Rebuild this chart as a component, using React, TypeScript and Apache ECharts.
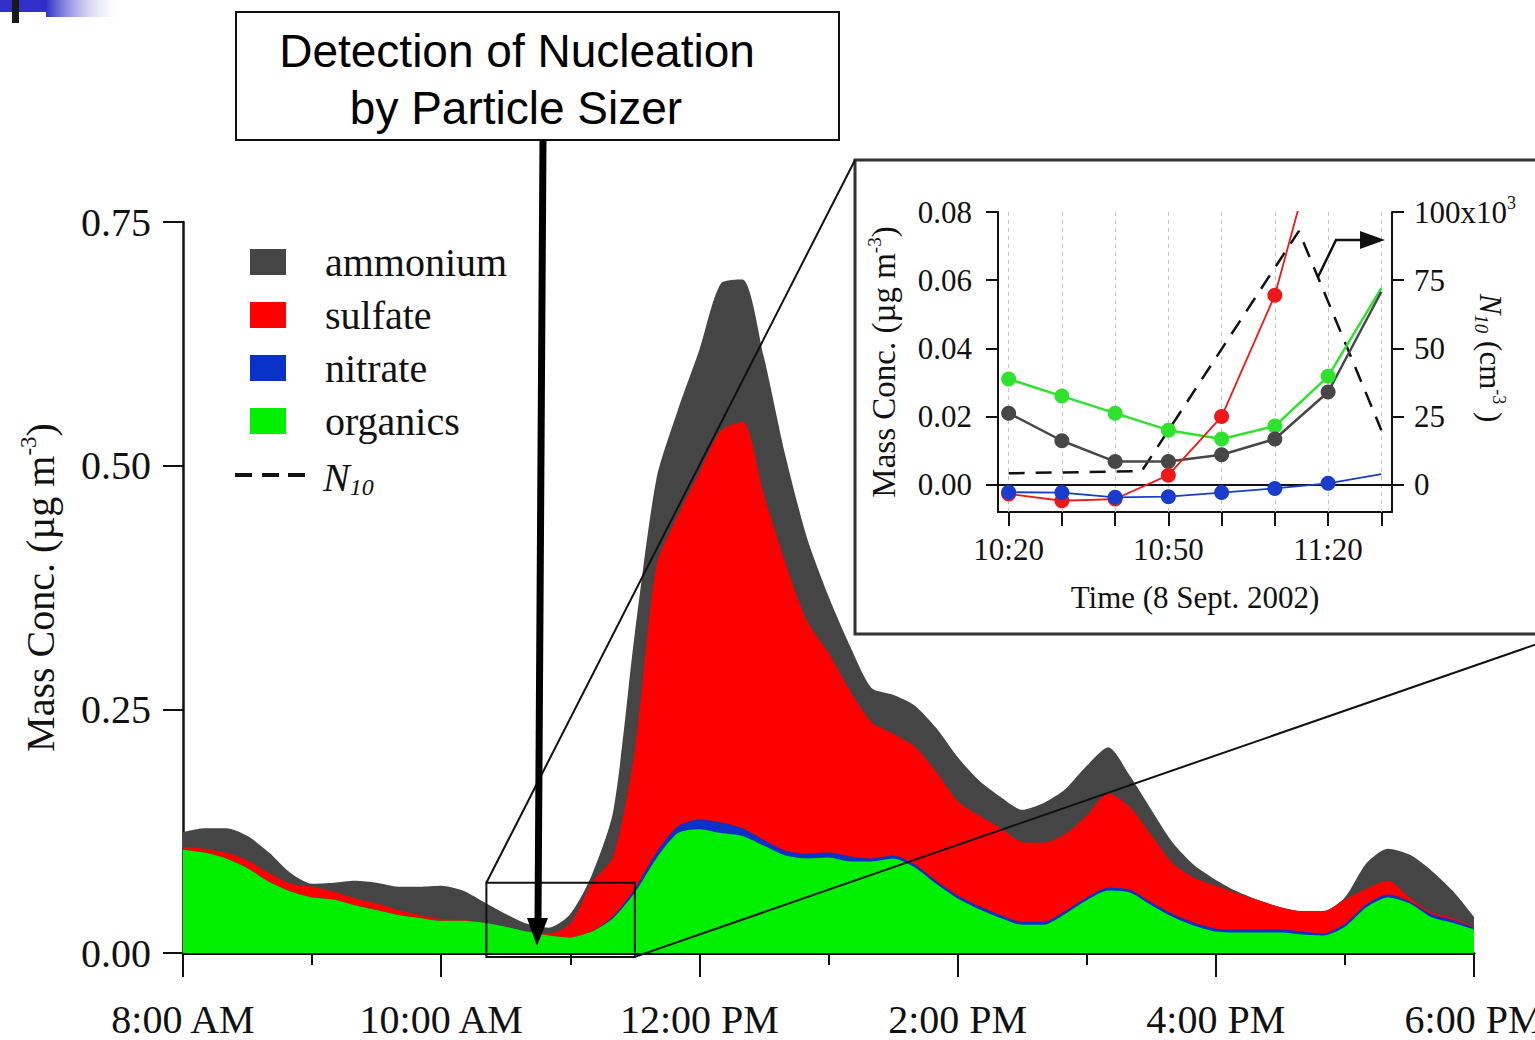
import React, { useEffect, useRef } from "react";
import * as echarts from "echarts";

// ---------- main chart data (minutes after 8:00 AM, µg m-3) ----------
const mainTimes = [
  0, 10, 20, 30, 40, 50, 60, 70, 80, 90, 100, 110, 120, 130, 140, 150, 160, 170, 180, 190,
  200, 210, 220, 230, 240, 250, 260, 270, 280, 290, 300, 310, 320, 330, 340, 350, 360, 370,
  380, 390, 400, 410, 420, 430, 440, 450, 460, 470, 480, 490, 500, 510, 520, 530, 540, 550,
  560, 570, 580, 590, 600,
];
const organics = [
  0.106, 0.103, 0.097, 0.087, 0.073, 0.063, 0.057, 0.055, 0.049, 0.044, 0.039, 0.036, 0.033,
  0.033, 0.031, 0.027, 0.022, 0.018, 0.016, 0.022, 0.036, 0.062, 0.097, 0.123, 0.127, 0.123,
  0.12, 0.11, 0.1, 0.097, 0.098, 0.094, 0.094, 0.097, 0.088, 0.071, 0.056, 0.045, 0.036, 0.029,
  0.029, 0.04, 0.054, 0.064, 0.062, 0.049, 0.037, 0.028, 0.022, 0.021, 0.021, 0.021, 0.019,
  0.018, 0.027, 0.047, 0.057, 0.051, 0.037, 0.031, 0.024,
];
const nitrate = [
  0, 0, 0, 0, 0, 0, 0, 0, 0, 0, 0, 0, 0, 0, 0, 0, 0, 0, 0, 0, 0.002, 0.004, 0.006, 0.007, 0.01,
  0.011, 0.008, 0.006, 0.005, 0.005, 0.005, 0.005, 0.003, 0.003, 0.003, 0.003, 0.003, 0.003,
  0.003, 0.003, 0.003, 0.003, 0.003, 0.003, 0.003, 0.003, 0.003, 0.003, 0.003, 0.003, 0.003,
  0.003, 0.003, 0.002, 0.003, 0.003, 0.003, 0.002, 0.003, 0.003, 0.002,
];
const sulfate = [
  0.003, 0.004, 0.006, 0.008, 0.009, 0.008, 0.011, 0.008, 0.007, 0.007, 0.005, 0.003, 0.002,
  0.001, 0, 0, 0, 0.002, 0.014, 0.05, 0.061, 0.142, 0.294, 0.319, 0.356, 0.402, 0.417, 0.354,
  0.295, 0.239, 0.205, 0.17, 0.14, 0.125, 0.121, 0.112, 0.097, 0.093, 0.089, 0.082, 0.081,
  0.079, 0.084, 0.097, 0.085, 0.069, 0.052, 0.046, 0.044, 0.037, 0.03, 0.023, 0.021, 0.023,
  0.025, 0.016, 0.014, 0.004, 0.002, 0.002, 0.001,
];
const ammonium = [
  0.015, 0.021, 0.025, 0.025, 0.021, 0.011, 0.003, 0.009, 0.018, 0.021, 0.024, 0.029, 0.034,
  0.03, 0.021, 0.013, 0.008, 0.006, 0.01, 0.008, 0.047, 0.12, 0.089, 0.108, 0.126, 0.151,
  0.146, 0.141, 0.11, 0.085, 0.058, 0.046, 0.035, 0.04, 0.042, 0.045, 0.045, 0.036, 0.032,
  0.033, 0.041, 0.046, 0.051, 0.047, 0.032, 0.026, 0.021, 0.013, 0.006, 0.002, 0, 0, 0, 0,
  0.002, 0.026, 0.033, 0.044, 0.043, 0.028, 0.01,
];
const mainTickLabels = ["8:00 AM", "10:00 AM", "12:00 PM", "2:00 PM", "4:00 PM", "6:00 PM"];
const mainYLabels = [0, 0.25, 0.5, 0.75];

// ---------- inset data (minutes after 10:00 AM) ----------
const insetTimes = [20, 30, 40, 50, 60, 70, 80, 90];
const insetOrganics = [0.031, 0.026, 0.021, 0.016, 0.0134, 0.0172, 0.0318, 0.0577];
const insetAmmonium = [0.021, 0.0129, 0.0068, 0.0068, 0.0088, 0.0134, 0.0272, 0.0566];
const insetSulfate = [-0.0027, -0.0047, -0.0042, 0.0028, 0.02, 0.0556, 0.113];
const insetNitrate = [-0.0022, -0.0023, -0.0037, -0.0035, -0.0023, -0.0011, 0.0004, 0.0031];
const n10Times = [20, 30, 40, 45, 74.5, 90];
const n10Values = [4200, 4500, 4800, 5000, 93000, 20000];
const insetTickValues = [20, 30, 40, 50, 60, 70, 80, 90];
const insetLabelValues = [20, 50, 80];
const insetTickLabels = ["10:20", "10:50", "11:20"];
const insetYLabels = [0, 0.02, 0.04, 0.06, 0.08];
const insetN10Labels = [0, 25000, 50000, 75000, 100000];

// zoomed window shown on the main chart (minutes after 8:00, µg m-3)
const zoomWindow = { from: 141, to: 210, low: -0.004, high: 0.072 };

const SERIF = '"Liberation Serif", "Times New Roman", serif';
const SANS = '"Liberation Sans", Arial, sans-serif';

const C_GRAY = "#454545";
const C_RED = "#ff0000";
const C_BLUE = "#0a32c8";
const C_GREEN = "#00f000";

export default function App() {
  const ref = useRef<HTMLDivElement>(null);

  useEffect(() => {
    document.body.style.margin = "0";
    document.documentElement.style.overflow = "hidden";
    const chart = echarts.init(ref.current!, null, { renderer: "svg" });
    const pair = (xs: number[], ys: number[]) => ys.map((v, i) => [xs[i], v]);
    const insetLine = (xs: number[], ys: number[], lastNoMarker: boolean) =>
      ys.map((v, i) =>
        lastNoMarker && i === ys.length - 1 ? { value: [xs[i], v], symbol: "none" } : { value: [xs[i], v] }
      );

    // cumulative stack (organics at the bottom, then nitrate, sulfate, ammonium)
    const addArr = (a: number[], b: number[]) => a.map((v, i) => Math.round((v + b[i]) * 1e5) / 1e5);
    const cumOrg = organics.slice();
    const cumNit = addArr(cumOrg, nitrate);
    const cumSul = addArr(cumNit, sulfate);
    const cumAmm = addArr(cumSul, ammonium);

    const areaSeries = (name: string, data: number[], color: string) => ({
      name,
      type: "line",
      xAxisIndex: 0,
      yAxisIndex: 0,
      data: pair(mainTimes, data),
      symbol: "none",
      smooth: 0.25,
      color,
      lineStyle: { width: 0, color },
      itemStyle: { color },
      areaStyle: { color, opacity: 1, origin: "start" },
      z: 2,
    });

    const insetSeries = (name: string, data: any[], color: string, width: number, size: number) => ({
      name,
      type: "line",
      xAxisIndex: 1,
      yAxisIndex: 1,
      data,
      symbol: "circle",
      symbolSize: size,
      color,
      lineStyle: { width, color },
      itemStyle: { color },
      clip: true,
      z: 4,
    });

    const option: any = {
      animation: false,
      backgroundColor: "#ffffff",
      textStyle: { fontFamily: SERIF },
      grid: [
        { left: 183, right: 61, top: 222, bottom: 87, outerBoundsMode: "none", containLabel: false },
        { left: 998, top: 212, width: 394, height: 300, outerBoundsMode: "none", containLabel: false },
      ],
      legend: {
        orient: "vertical",
        left: 245,
        top: 237,
        itemWidth: 36,
        itemHeight: 26,
        itemGap: 13,
        icon: "rect",
        selectedMode: false,
        data: ["ammonium", "sulfate", "nitrate", "organics"],
        textStyle: {
          fontFamily: SERIF,
          fontSize: 40,
          color: "#111",
          padding: [0, 0, 0, 34],
        },
      },
      xAxis: [
        {
          gridIndex: 0,
          type: "value",
          min: 0,
          max: 600,
          interval: 120,
          offset: 6,
          axisLine: { show: true, lineStyle: { color: "#111", width: 3 } },
          axisTick: { show: true, length: 24, lineStyle: { color: "#111", width: 2 } },
          minorTick: { show: true, splitNumber: 2, length: 12, lineStyle: { color: "#111", width: 2 } },
          splitLine: { show: false },
          axisLabel: {
            margin: 40,
            fontFamily: SERIF,
            fontSize: 40,
            color: "#111",
            formatter: (v: number) => mainTickLabels[Math.round(v / 120)] ?? "",
          },
        },
        {
          gridIndex: 1,
          type: "value",
          min: 18,
          max: 92,
          axisLine: { show: true, onZero: false, lineStyle: { color: "#111", width: 2 } },
          axisTick: {
            show: true,
            customValues: insetTickValues,
            length: 14,
            lineStyle: { color: "#111", width: 2 },
          },
          splitLine: { show: false },
          axisLabel: {
            customValues: insetLabelValues,
            margin: 22,
            fontFamily: SERIF,
            fontSize: 31,
            color: "#111",
            formatter: (v: number) => insetTickLabels[insetLabelValues.indexOf(v)] ?? "",
          },
          name: "Time (8 Sept. 2002)",
          nameLocation: "middle",
          nameGap: 70,
          nameTextStyle: { fontFamily: SERIF, fontSize: 31, color: "#111" },
        },
      ],
      yAxis: [
        {
          gridIndex: 0,
          type: "value",
          min: 0,
          max: 0.75,
          interval: 0.25,
          axisLine: { show: true, lineStyle: { color: "#111", width: 2.5 } },
          axisTick: { show: true, length: 20, lineStyle: { color: "#111", width: 2 } },
          splitLine: { show: false },
          axisLabel: {
            customValues: mainYLabels,
            margin: 32,
            fontFamily: SERIF,
            fontSize: 40,
            color: "#111",
            formatter: (v: number) => v.toFixed(2),
          },
          name: "{a|Mass Conc. (µg m}{s|-3}{a|)}",
          nameLocation: "middle",
          nameGap: 120,
          nameRotate: 90,
          nameTextStyle: {
            rich: {
              a: { fontFamily: SERIF, fontSize: 40, color: "#111", lineHeight: 46 },
              s: { fontFamily: SERIF, fontSize: 23, color: "#111", lineHeight: 23, verticalAlign: "top" },
            },
          },
        },
        {
          gridIndex: 1,
          type: "value",
          min: -0.008,
          max: 0.08,
          position: "left",
          axisLine: { show: true, onZero: false, lineStyle: { color: "#111", width: 2 } },
          axisTick: { show: true, customValues: insetYLabels, length: 12, lineStyle: { color: "#111", width: 2 } },
          splitLine: { show: false },
          axisLabel: {
            customValues: insetYLabels,
            margin: 26,
            fontFamily: SERIF,
            fontSize: 31,
            color: "#111",
            formatter: (v: number) => v.toFixed(2),
          },
          name: "{a|Mass Conc. (µg m}{s|-3}{a|)}",
          nameLocation: "middle",
          nameGap: 95,
          nameRotate: 90,
          nameTextStyle: {
            rich: {
              a: { fontFamily: SERIF, fontSize: 33, color: "#111", lineHeight: 38 },
              s: { fontFamily: SERIF, fontSize: 19, color: "#111", lineHeight: 19, verticalAlign: "top" },
            },
          },
        },
        {
          gridIndex: 1,
          type: "value",
          min: -10000,
          max: 100000,
          position: "right",
          axisLine: { show: true, onZero: false, lineStyle: { color: "#111", width: 2 } },
          axisTick: { show: true, customValues: insetN10Labels, length: 12, lineStyle: { color: "#111", width: 2 } },
          splitLine: { show: false },
          axisLabel: {
            customValues: insetN10Labels,
            margin: 22,
            color: "#111",
            formatter: (v: number) => (v === 100000 ? "{a|100x10}{s|3}" : "{a|" + v / 1000 + "}"),
            rich: {
              a: { fontFamily: SERIF, fontSize: 31, color: "#111", lineHeight: 36 },
              s: { fontFamily: SERIF, fontSize: 18, color: "#111", lineHeight: 18, verticalAlign: "top" },
            },
          },
        },
      ],
      series: [
        areaSeries("ammonium", cumAmm, C_GRAY),
        areaSeries("sulfate", cumSul, C_RED),
        areaSeries("nitrate", cumNit, C_BLUE),
        areaSeries("organics", cumOrg, C_GREEN),
        {
          ...insetSeries("organics (inset)", insetLine(insetTimes, insetOrganics, true), "#2ee22e", 2.5, 15),
          markLine: {
            silent: true,
            symbol: ["none", "none"],
            label: { show: false },
            lineStyle: { type: [4, 4], color: "#c4c4c4", width: 1 },
            data: insetTickValues.map((t) => ({ xAxis: t })),
            z: 1,
          },
        },
        insetSeries("ammonium (inset)", insetLine(insetTimes, insetAmmonium, true), "#474747", 2.5, 15),
        insetSeries("sulfate (inset)", insetLine(insetTimes, insetSulfate, false), "#ee1818", 1.8, 15),
        {
          ...insetSeries("nitrate (inset)", insetLine(insetTimes, insetNitrate, true), "#1a3ccc", 1.8, 15),
          markLine: {
            silent: true,
            symbol: ["none", "none"],
            label: { show: false },
            lineStyle: { type: "solid", color: "#111", width: 2 },
            data: [{ yAxis: 0 }],
            z: 3,
          },
        },
        {
          name: "N10",
          type: "line",
          xAxisIndex: 1,
          yAxisIndex: 2,
          data: pair(n10Times, n10Values),
          symbol: "none",
          color: "#111",
          lineStyle: { color: "#111", width: 2.5, type: [16, 11] },
          clip: true,
          z: 3,
        },
      ],
    };

    chart.setOption(option);

    const tl = chart.convertToPixel({ xAxisIndex: 0, yAxisIndex: 0 }, [zoomWindow.from, zoomWindow.high]) as number[];
    const br = chart.convertToPixel({ xAxisIndex: 0, yAxisIndex: 0 }, [zoomWindow.to, zoomWindow.low]) as number[];

    const insetBox = { x: 855, y: 160, w: 700, h: 474 };

    chart.setOption({
      graphic: [
        { type: "rect", shape: { x: 0, y: 0, width: 46, height: 12 }, style: { fill: "#3030c8" }, z: 50 },
        {
          type: "rect",
          shape: { x: 46, y: 0, width: 78, height: 17 },
          style: {
            fill: new echarts.graphic.LinearGradient(0, 0, 1, 0, [
              { offset: 0, color: "#3030c8" },
              { offset: 1, color: "rgba(255,255,255,0)" },
            ]),
          },
          z: 50,
        },
        { type: "rect", shape: { x: 12, y: 0, width: 7, height: 23 }, style: { fill: "#1a1a1a" }, z: 51 },
        {
          type: "rect",
          shape: { x: insetBox.x, y: insetBox.y, width: insetBox.w, height: insetBox.h },
          style: { fill: "#ffffff", stroke: "#333333", lineWidth: 3 },
          z: 0,
        },
        // right axis title of the inset (N10), rotated clockwise
        {
          type: "text",
          x: 1490,
          y: 358,
          rotation: -Math.PI / 2,
          style: {
            text: "{i|N}{b|10}{a| (cm}{s|-3}{a| )}",
            align: "center",
            verticalAlign: "middle",
            rich: {
              i: { font: `italic 31px ${SERIF}`, fill: "#111", lineHeight: 36 },
              b: { font: `italic 19px ${SERIF}`, fill: "#111", lineHeight: 19, verticalAlign: "bottom" },
              a: { font: `31px ${SERIF}`, fill: "#111", lineHeight: 36 },
              s: { font: `18px ${SERIF}`, fill: "#111", lineHeight: 18, verticalAlign: "top" },
            },
          },
          z: 60,
        },
        {
          type: "rect",
          shape: { x: tl[0], y: tl[1], width: br[0] - tl[0], height: br[1] - tl[1] },
          style: { fill: "none", stroke: "#111", lineWidth: 2 },
          z: 60,
        },
        {
          type: "line",
          shape: { x1: tl[0], y1: tl[1], x2: insetBox.x, y2: insetBox.y },
          style: { stroke: "#111", lineWidth: 2 },
          z: 60,
        },
        {
          type: "line",
          shape: { x1: br[0], y1: br[1], x2: 1540, y2: 643 },
          style: { stroke: "#111", lineWidth: 2 },
          z: 60,
        },
        {
          type: "rect",
          shape: { x: 236, y: 12, width: 603, height: 128 },
          style: { fill: "#ffffff", stroke: "#111", lineWidth: 2 },
          z: 70,
        },
        {
          type: "text",
          x: 517,
          y: 51,
          style: {
            text: "Detection of Nucleation",
            font: `46px ${SANS}`,
            fill: "#000",
            align: "center",
            verticalAlign: "middle",
          },
          z: 71,
        },
        {
          type: "text",
          x: 516,
          y: 108,
          style: {
            text: "by Particle Sizer",
            font: `46px ${SANS}`,
            fill: "#000",
            align: "center",
            verticalAlign: "middle",
          },
          z: 71,
        },
        {
          type: "polyline",
          shape: { points: [[543, 140], [538, 922]] },
          style: { stroke: "#000", lineWidth: 7 },
          z: 72,
        },
        {
          type: "polygon",
          shape: { points: [[527, 918], [548, 918], [537, 946]] },
          style: { fill: "#000" },
          z: 72,
        },
        {
          type: "polyline",
          shape: { points: [[1318, 277], [1336, 240], [1364, 240]] },
          style: { stroke: "#111", lineWidth: 2.5, fill: "none" },
          z: 60,
        },
        {
          type: "polygon",
          shape: { points: [[1360, 231], [1385, 240], [1360, 249]] },
          style: { fill: "#111" },
          z: 60,
        },
        { type: "polyline", shape: { points: [[235, 475], [252, 475]] }, style: { stroke: "#111", lineWidth: 4 }, z: 60 },
        { type: "polyline", shape: { points: [[262, 475], [279, 475]] }, style: { stroke: "#111", lineWidth: 4 }, z: 60 },
        { type: "polyline", shape: { points: [[288, 475], [305, 475]] }, style: { stroke: "#111", lineWidth: 4 }, z: 60 },
        {
          type: "text",
          x: 323,
          y: 477,
          style: {
            text: "{i|N}{b|10}",
            verticalAlign: "middle",
            rich: {
              i: { font: `italic 40px ${SERIF}`, fill: "#111", lineHeight: 44 },
              b: { font: `italic 24px ${SERIF}`, fill: "#111", lineHeight: 24, verticalAlign: "bottom" },
            },
          },
          z: 60,
        },
      ],
    });

    return () => chart.dispose();
  }, []);

  return <div ref={ref} style={{ width: 1535, height: 1040 }} />;
}
